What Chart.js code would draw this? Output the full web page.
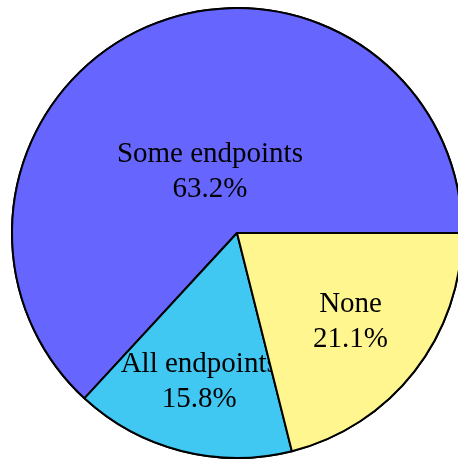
<!DOCTYPE html>
<html>
<head>
<meta charset="utf-8">
<script src="https://cdn.jsdelivr.net/npm/chart.js@4"></script>
<style>
  html, body { margin: 0; padding: 0; background: #fff; overflow: hidden; }
  #pie { display: block; }
</style>
</head>
<body>
<canvas id="pie" width="474" height="466"></canvas>
<script>
// slices, clockwise from 3 o'clock
const categories = ['None', 'All endpoints', 'Some endpoints'];
const shares = [21.1, 15.8, 63.2];
const sliceColors = ['#fff68f', '#40c8f2', '#6666ff'];

// slices are painted one after another, each with its label on top
const sliceLabels = {
    id: 'sliceLabels',
    afterDatasetsDraw(chart, args, opts) {
        const ctx = chart.ctx;
        const meta = chart.getDatasetMeta(0);
        opts.order.forEach(i => {
            const arc = meta.data[i];
            arc.draw(ctx);
            const { x, y, startAngle, endAngle, outerRadius } = arc.getProps(['x', 'y', 'startAngle', 'endAngle', 'outerRadius'], true);
            const mid = (startAngle + endAngle) / 2;
            const r = outerRadius * opts.radial[i];
            const cx = x + Math.cos(mid) * r;
            const cy = y + Math.sin(mid) * r;
            ctx.save();
            ctx.fillStyle = '#000';
            ctx.font = '29px "Liberation Serif", "Times New Roman", serif';
            ctx.textAlign = 'center';
            ctx.textBaseline = 'middle';
            ctx.fillText(categories[i], cx, cy - 17);
            ctx.fillText(shares[i].toFixed(1) + '%', cx, cy + 18);
            ctx.restore();
        });
    }
};

new Chart(document.getElementById('pie'), {
    type: 'pie',
    data: {
        labels: categories,
        datasets: [{
            data: shares,
            backgroundColor: sliceColors,
            borderColor: '#000',
            borderWidth: 2,
            hoverOffset: 0
        }]
    },
    options: {
        responsive: false,
        animation: false,
        events: [],
        rotation: 90,
        radius: 225,
        layout: { padding: 0 },
        plugins: {
            legend: { display: false },
            tooltip: { enabled: false },
            sliceLabels: { order: [2, 1, 0], radial: [0.64, 0.68, 0.30] }
        }
    },
    plugins: [sliceLabels]
});
</script>
</body>
</html>
